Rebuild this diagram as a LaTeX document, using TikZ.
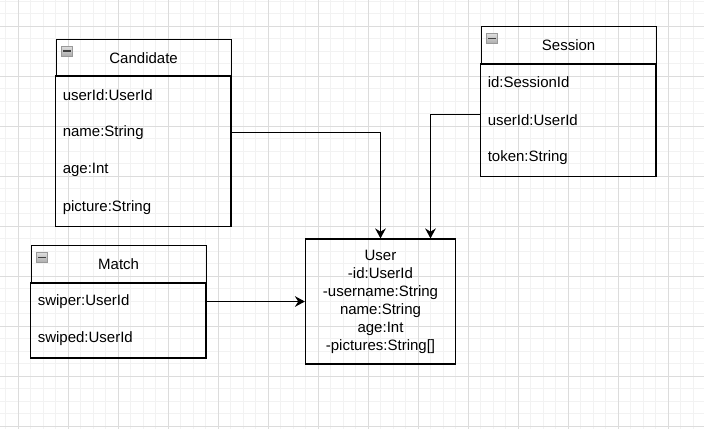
\documentclass[tikz,border=0pt]{standalone}
\usepackage{fontspec}
\setmainfont{Liberation Sans}
\usetikzlibrary{arrows.meta,positioning}
\definecolor{gridminor}{HTML}{F2F2F2}
\definecolor{gridmajor}{HTML}{DCDCDC}
\tikzset{
  boxline/.style={draw=black,line width=0.9pt},
  hdr/.style={rectangle,boxline,minimum width=131.25pt,minimum height=28.125pt,inner sep=0pt,anchor=north west,font=\fontsize{11.25pt}{13.5pt}\selectfont},
  rowbox/.style={rectangle,minimum width=131.25pt,minimum height=28.125pt,inner xsep=5.25pt,inner ysep=0pt,text width=120.75pt,align=left,anchor=north west,font=\fontsize{11.25pt}{13.5pt}\selectfont},
  entity/.style={rectangle,boxline,minimum width=112.5pt,minimum height=93.75pt,inner sep=0pt,align=center,font=\fontsize{11.25pt}{13.5pt}\selectfont},
  conn/.style={draw=black,line width=0.9pt,-{Stealth[length=7.5pt,width=8pt,inset=2.5pt]}},
  pics/collapse/.style={code={
    \shade[top color=gray!25,bottom color=gray!65,draw=gray!80,line width=0.5pt] (0,0) rectangle (11,10);
    \draw[black!75,line width=1.1pt] (1.5,5) -- (9.5,5);
  }}
}
\begin{document}
\begin{tikzpicture}[x=0.75pt,y=-0.75pt]
\useasboundingbox (0,0) rectangle (704,429);
\fill[white] (0,0) rectangle (704,429);
% grid
\foreach \i in {0,...,55} \draw[gridminor,line width=0.75pt] ({5.833+12.5*\i},0) -- ({5.833+12.5*\i},429);
\foreach \i in {0,...,34} \draw[gridminor,line width=0.75pt] (0,{1+12.5*\i}) -- (704,{1+12.5*\i});
\foreach \i in {0,...,13} \draw[gridmajor,line width=0.75pt] ({18.333+50*\i},0) -- ({18.333+50*\i},429);
\foreach \i in {0,...,8} \draw[gridmajor,line width=0.75pt] (0,{26+50*\i}) -- (704,{26+50*\i});

% Candidate
\node[hdr] (candh) at (55.5,38.5) {Candidate};
\node[rowbox] (cand1) at (55.5,76) {userId:UserId};
\node[rowbox] (cand2) at (55.5,113.5) {name:String};
\node[rowbox] (cand3) at (55.5,151) {age:Int};
\node[rowbox] (cand4) at (55.5,188.5) {picture:String};
\draw[boxline] (cand1.north west) rectangle (cand4.south east);
\pic at (61.5,46) {collapse};

% Session
\node[hdr] (sessh) at (480.5,26) {Session};
\node[rowbox] (sess1) at (480.5,63.5) {id:SessionId};
\node[rowbox] (sess2) at (480.5,101) {userId:UserId};
\node[rowbox] (sess3) at (480.5,138.5) {token:String};
\draw[boxline] (sess1.north west) rectangle (sess3.south east);
\pic at (486.5,33.5) {collapse};

% Match
\node[hdr] (math) at (30.5,245) {Match};
\node[rowbox] (mat1) at (30.5,282.5) {swiper:UserId};
\node[rowbox] (mat2) at (30.5,320) {swiped:UserId};
\draw[boxline] (mat1.north west) rectangle (mat2.south east);
\pic at (36.5,252.5) {collapse};

% User
\node[entity] (user) at (380.5,301.5) {User\\-id:UserId\\-username:String\\name:String\\age:Int\\-pictures:String[]};

% connectors
\draw[conn] (cand2.east) -| (user.north);
\draw[conn] ([yshift=4.3pt]sess2.west) -| ([xshift=37.5pt]user.north);
\draw[conn] (mat1.east) -- (mat1.east -| user.west);
\end{tikzpicture}
\end{document}
